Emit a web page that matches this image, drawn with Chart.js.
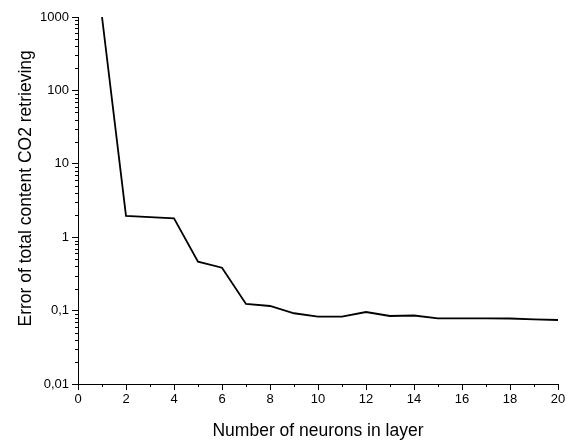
<!DOCTYPE html>
<html>
<head>
<meta charset="utf-8">
<script src="https://cdn.jsdelivr.net/npm/chart.js@4/dist/chart.umd.min.js"></script>
<style>
  html, body { margin: 0; padding: 0; background: #fff; }
  #wrap { width: 577px; height: 442px; }
</style>
</head>
<body>
<div id="wrap"><canvas id="c" width="577" height="442"></canvas></div>
<script>
// Data
const neurons = [1, 2, 3, 4, 5, 6, 7, 8, 9, 10, 11, 12, 13, 14, 15, 16, 17, 18, 19, 20];
const errorValues = [1000, 1.95, 1.88, 1.81, 0.464, 0.384, 0.123, 0.1155, 0.092, 0.0826, 0.0826, 0.0957, 0.0844, 0.0857, 0.0785, 0.0785, 0.0785, 0.078, 0.0757, 0.0745];
const yMajorTicks = [0.01, 0.1, 1, 10, 100, 1000];
const yTickLabels = ['0,01', '0,1', '1', '10', '100', '1000'];
const xMin = 0, xMax = 20;
const xTitle = 'Number of neurons in layer';
const yTitle = 'Error of total content CO2 retrieving';

const FONT = 'Liberation Sans, Arial, sans-serif';

function isMajorY(v) {
  return yMajorTicks.some(m => Math.abs(m - v) / m < 1e-6);
}

const minorTicksPlugin = {
  id: 'minorTicks',
  afterDraw(chart) {
    const ctx = chart.ctx;
    const ys = chart.scales.y, xs = chart.scales.x;
    ctx.save();
    ctx.strokeStyle = '#000';
    ctx.lineWidth = 1;
    ctx.beginPath();
    ys.ticks.forEach(t => {
      if (!isMajorY(t.value)) {
        const py = Math.round(ys.getPixelForValue(t.value)) + 0.5;
        ctx.moveTo(ys.right - 3, py);
        ctx.lineTo(ys.right, py);
      }
    });
    xs.ticks.forEach(t => {
      if (t.value % 2 !== 0) {
        const px = Math.round(xs.getPixelForValue(t.value)) + 0.5;
        ctx.moveTo(px, xs.top);
        ctx.lineTo(px, xs.top + 3);
      }
    });
    ctx.stroke();
    ctx.restore();
  }
};

new Chart(document.getElementById('c'), {
  type: 'line',
  data: {
    datasets: [{
      data: neurons.map((n, i) => ({ x: n, y: errorValues[i] })),
      borderColor: '#000',
      borderWidth: 1.8,
      pointRadius: 0,
      tension: 0,
      fill: false
    }]
  },
  options: {
    responsive: false,
    animation: false,
    devicePixelRatio: 1,
    layout: { padding: { left: 0, right: 19, top: 17, bottom: 0 } },
    plugins: { legend: { display: false }, tooltip: { enabled: false } },
    scales: {
      x: {
        type: 'linear',
        min: xMin, max: xMax,
        afterFit(s) { s.height = 58; },
        border: { display: true, color: '#000', width: 1 },
        grid: {
          drawOnChartArea: false, drawTicks: true, tickLength: 6,
          tickColor: c => (c.tick && c.tick.value % 2 === 0) ? '#000' : 'rgba(0,0,0,0)'
        },
        ticks: {
          stepSize: 1, autoSkip: false, maxRotation: 0, padding: 2,
          color: '#000', font: { family: FONT, size: 13 },
          callback: v => (v % 2 === 0 ? String(v) : '')
        },
        title: {
          display: true, text: xTitle, color: '#000',
          font: { family: FONT, size: 17.5 }, padding: { top: 0, bottom: 0 }
        }
      },
      y: {
        type: 'logarithmic',
        min: 0.01, max: 1000,
        afterFit(s) { s.width = 78; },
        afterBuildTicks(s) {
          const t = [];
          for (let d = 0; d < yMajorTicks.length; d++) {
            const base = yMajorTicks[d];
            const lim = d === yMajorTicks.length - 1 ? 1 : 9;
            for (let k = 1; k <= lim; k++) t.push({ value: base * k, major: k === 1 });
          }
          s.ticks = t;
        },
        border: { display: true, color: '#000', width: 1 },
        grid: {
          drawOnChartArea: false, drawTicks: true, tickLength: 6,
          tickColor: c => (c.tick && isMajorY(c.tick.value)) ? '#000' : 'rgba(0,0,0,0)'
        },
        ticks: {
          autoSkip: false, padding: 3,
          color: '#000', font: { family: FONT, size: 13 },
          callback: v => {
            const i = yMajorTicks.findIndex(m => Math.abs(m - v) / m < 1e-6);
            return i >= 0 ? yTickLabels[i] : '';
          }
        },
        title: {
          display: true, text: '     ' + yTitle, color: '#000',
          font: { family: FONT, size: 17.5 }, padding: { top: 16, bottom: 0 }
        }
      }
    }
  },
  plugins: [minorTicksPlugin]
});
</script>
</body>
</html>
